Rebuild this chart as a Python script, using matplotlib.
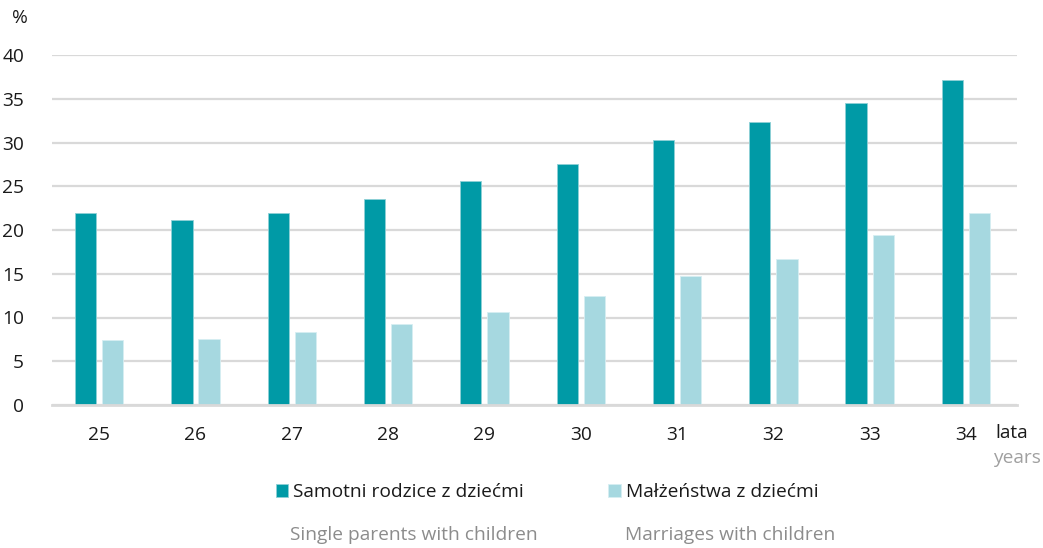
import matplotlib
matplotlib.use("Agg")
import matplotlib.pyplot as plt
import numpy as np

ages = ["25", "26", "27", "28", "29", "30", "31", "32", "33", "34"]
single_parents = [22.0, 21.2, 22.0, 23.5, 25.6, 27.6, 30.3, 32.4, 34.5, 37.2]
marriages = [7.45, 7.6, 8.4, 9.25, 10.6, 12.5, 14.7, 16.7, 19.4, 21.9]
label_pl = ["Samotni rodzice z dziećmi", "Małżeństwa z dziećmi"]
label_en = ["Single parents with children", "Marriages with children"]
yticks = [0, 5, 10, 15, 20, 25, 30, 35, 40]

plt.rcParams['font.family'] = ['Open Sans', 'DejaVu Sans']

DARK = "#009AA6"
LIGHT = "#A6D8E0"
GRID = "#D9D9D9"
GRAYTXT = "#8C8C8C"
FS = 13.8

fig = plt.figure(figsize=(10.43, 5.48), dpi=100)
ax = fig.add_axes([52/1043, 1-405/548, (1017-52)/1043, (405-55)/548])

x = np.arange(len(ages))
w = 0.22
off = 0.141
b1 = ax.bar(x - off, single_parents, w, color=DARK, edgecolor="#8FD0D6", linewidth=0.6, zorder=3, label=label_pl[0])
b2 = ax.bar(x + off, marriages, w, color=LIGHT, edgecolor="#D6EEF2", linewidth=0.6, zorder=3, label=label_pl[1])

ax.set_xlim(-0.49, 9.53)
ax.set_ylim(0, 40)
ax.set_yticks(yticks)
ax.set_yticklabels([str(v) for v in yticks])
ax.set_xticks(x)
ax.set_xticklabels(ages)
ax.tick_params(axis='both', length=0, labelsize=FS, colors="#1a1a1a")
ax.tick_params(axis='y', pad=20)
ax.tick_params(axis='x', pad=15)
for lab in ax.get_yticklabels():
    lab.set_horizontalalignment('right')
ax.yaxis.grid(True, color=GRID, linewidth=1.6, zorder=0)
ax.set_axisbelow(True)
for s in ['top', 'right', 'left']:
    ax.spines[s].set_visible(False)
ax.spines['bottom'].set_color(GRID)
ax.spines['bottom'].set_linewidth(2.0)
ax.spines['bottom'].set_zorder(4)

fig.text(12/1043, 1-18/548, "%", fontsize=FS, color="#1a1a1a", va='center', ha='left')
fig.text(995/1043, 1-433/548, "lata", fontsize=FS, color="#1a1a1a", va='center', ha='left')
fig.text(993/1043, 1-458/548, "years", fontsize=FS, color="#A0A0A0", va='center', ha='left')

leg = fig.legend(handles=[b1, b2], labels=label_pl, loc='center left',
                 bbox_to_anchor=(276/1043, 1-492/548), ncol=2, frameon=False,
                 fontsize=FS, handlelength=0.65, handleheight=0.65, handletextpad=0.25,
                 columnspacing=4.4, borderaxespad=0, borderpad=0)
for t in leg.get_texts():
    t.set_color("#1a1a1a")

fig.text(290/1043, 1-535/548, label_en[0], fontsize=FS, color=GRAYTXT, va='center', ha='left')
fig.text(625/1043, 1-535/548, label_en[1], fontsize=FS, color=GRAYTXT, va='center', ha='left')

fig.savefig("out.png", dpi=100)
